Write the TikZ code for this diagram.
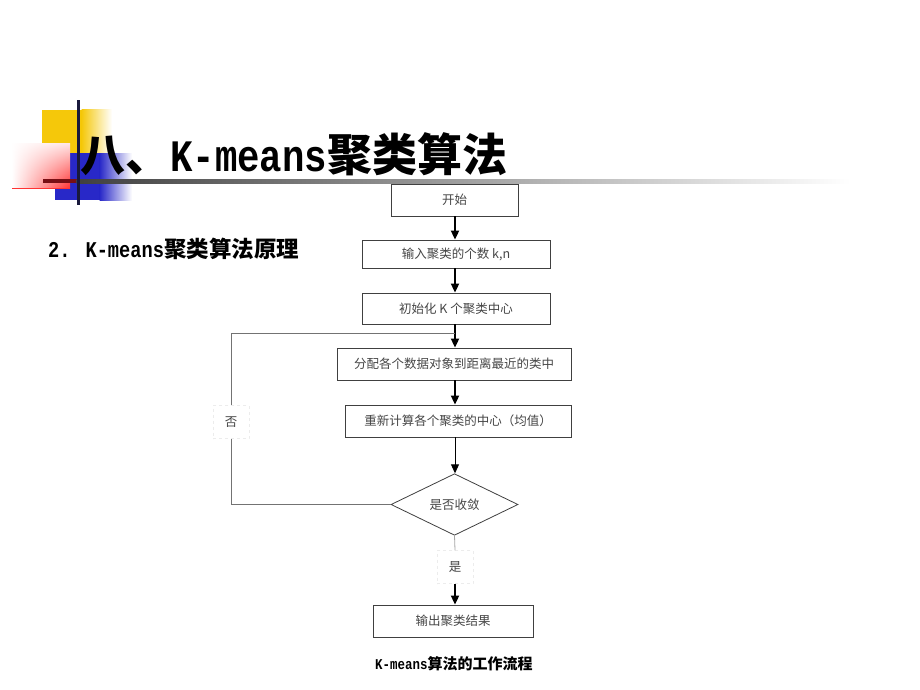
\documentclass[tikz,border=0pt]{standalone}
\usepackage{fontspec}
\usetikzlibrary{shapes.geometric,arrows.meta,fadings}
\newfontfamily\cjk{Noto Sans CJK SC}
\newfontfamily\mono{Liberation Mono}[FakeStretch=0.83]
\definecolor{yel}{RGB}{245,200,10}
\definecolor{blu}{RGB}{40,40,200}
\definecolor{dred}{RGB}{120,15,20}
\definecolor{navy}{RGB}{25,25,60}
\definecolor{txt}{RGB}{70,70,70}
\tikzset{
  box/.style={draw=black!75, line width=0.8pt, rectangle, inner sep=0pt, text=txt,
    font=\cjk\fontsize{12.5}{14}\selectfont},
  dia/.style={draw=black!75, line width=0.8pt, diamond, inner sep=0pt, text=txt,
    font=\cjk\fontsize{12.5}{14}\selectfont},
  arrthick/.style={line width=1.8pt, -{Triangle[length=9pt,width=8pt]}},
  arrthin/.style={line width=0.9pt, -{Triangle[length=9pt,width=8pt]}},
  fb/.style={line width=0.8pt, draw=black!55},
  lbl/.style={fill=white, draw=gray!15, dashed, text=txt, inner sep=0pt,
    minimum width=36pt, minimum height=33pt, font=\cjk\fontsize{12.5}{14}\selectfont}
}
\begin{document}
\begin{tikzpicture}[x=1pt,y=-1pt]
\useasboundingbox (0,0) rectangle (920,690);
\fill[white] (0,0) rectangle (920,690);
% decoration
\fill[yel] (42,110) rectangle (82,157);
\shade[left color=yel, right color=white] (81.5,110) rectangle (112,157);
\fill[blu] (55,153) rectangle (100,200);
\shade[left color=blu, right color=white] (99.5,153) rectangle (132,200);
\shade[top color=red!10, bottom color=red!80] (12,143) rectangle (70,188);
\fill[white, path fading=east] (12,143) rectangle (70,188);
\fill[dred] (43,179) rectangle (77,183);
\shade[left color=black!75, right color=white] (76.5,179) rectangle (850,183);
\fill[navy] (76.5,100) rectangle (79.5,205);
% title
\node[anchor=base west, inner sep=0pt, font=\fontsize{45}{45}\selectfont\bfseries] (title) at (80,171)
  {{\cjk 八、}{\mono K-means}{\cjk 聚类算法}};
\node[anchor=base west, inner sep=0pt, font=\fontsize{22.5}{24}\selectfont\bfseries] (sub) at (48,257)
  {{\mono 2. K-means}{\cjk 聚类算法原理}};
% flowchart
\coordinate (col) at (455,0);
\node[box, minimum width=127pt, minimum height=32pt] (start) at (454.5,200) {开始};
\node[box, minimum width=188pt, minimum height=28pt] (input) at (456,254) {输入聚类的个数 k,n};
\node[box, minimum width=188pt, minimum height=31pt] (init) at (456,308.5) {初始化 K 个聚类中心};
\node[box, minimum width=234pt, minimum height=32pt] (assign) at (454,364) {分配各个数据对象到距离最近的类中};
\node[box, minimum width=226pt, minimum height=32pt] (recomp) at (458,421) {重新计算各个聚类的中心（均值）};
\node[dia, minimum width=127pt, minimum height=57pt] (dec) at (454.5,504.5) {是否收敛};
\node[box, minimum width=160pt, minimum height=32pt] (out) at (453,621) {输出聚类结果};
\node[anchor=base west, inner sep=0pt, font=\fontsize{15}{16}\selectfont\bfseries] (cap) at (375,669)
  {{\mono K-means}{\cjk 算法的工作流程}};
% connectors
\draw[arrthick] (start.south -| col) -- (input.north -| col);
\draw[arrthick] (input.south -| col) -- (init.north -| col);
\draw[arrthick] (init.south -| col) -- (assign.north -| col);
\draw[arrthick] (assign.south -| col) -- (recomp.north -| col);
\draw[arrthin] (recomp.south -| col) -- (dec.north -| col);
\coordinate (fbl) at (231,504.5);
\coordinate (fbt) at (455,333);
\draw[fb] (dec.west) -- (fbl) |- (fbt);
\node[lbl] (no) at (231,422) {否};
\node[lbl] (yes) at (455,567) {是};
\draw[line width=0.8pt, draw=black!35] (dec.south) -- (yes.north);
\draw[arrthick] (yes.south) -- (out.north -| col);
\end{tikzpicture}
\end{document}
